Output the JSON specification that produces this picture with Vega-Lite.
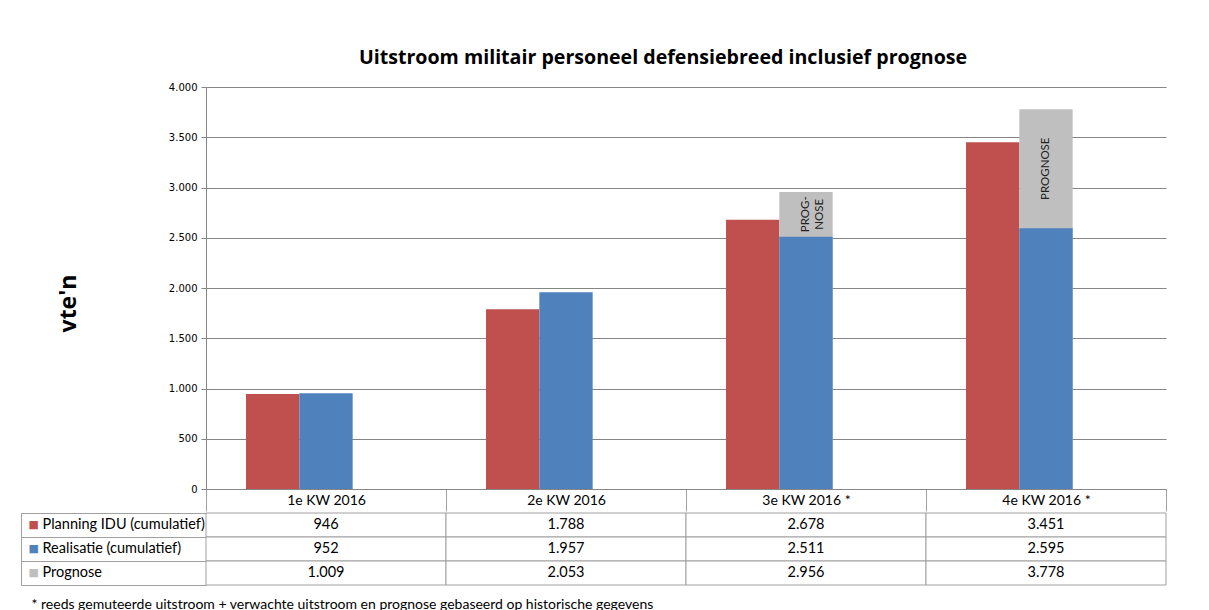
{
  "$schema": "https://vega.github.io/schema/vega-lite/v6.json",
  "background": "white",
  "padding": {"left": 20, "top": 48, "right": 5, "bottom": 0},
  "spacing": 0,
  "config": {
    "locale": {"number": {"decimal": ",", "thousands": ".", "grouping": [3], "currency": ["€", ""]}},
    "view": {"stroke": null},
    "font": "Lato"
  },
  "datasets": {
    "kw": [
      {"kw": "1e KW 2016", "planning": 946, "realisatie": 952, "prognose": 1009, "toon": false, "label": null},
      {"kw": "2e KW 2016", "planning": 1788, "realisatie": 1957, "prognose": 2053, "toon": false, "label": null},
      {"kw": "3e KW 2016 *", "planning": 2678, "realisatie": 2511, "prognose": 2956, "toon": true, "label": ["PROG-", "NOSE"]},
      {"kw": "4e KW 2016 *", "planning": 3451, "realisatie": 2595, "prognose": 3778, "toon": true, "label": "PROGNOSE"}
    ]
  },
  "vconcat": [
    {
      "width": 960,
      "height": 402,
      "title": {"text": "Uitstroom militair personeel defensiebreed inclusief prognose", "font": "Open Sans", "fontSize": 19.6, "fontWeight": "bold", "color": "black", "anchor": "middle", "frame": "group", "dx": -23, "offset": 13},
      "data": {"name": "kw"},
      "layer": [
        {
          "mark": {"type": "bar", "color": "#c0504d"},
          "encoding": {
            "x": {"field": "kw", "type": "nominal", "sort": null, "scale": {"paddingInner": 0, "paddingOuter": 0},
              "axis": {"title": null, "orient": "bottom", "labelAngle": 0, "tickBand": "extent", "tickSize": 22, "tickColor": "#a0a0a0", "domainColor": "#868686", "labelFont": "Lato", "labelFontSize": 14, "labelColor": "black", "labelBaseline": "middle", "labelPadding": -11}},
            "xOffset": {"datum": "planning", "scale": {"domain": ["planning", "realisatie", "leeg"], "paddingInner": 0, "paddingOuter": 0.75}},
            "y": {"field": "planning", "type": "quantitative", "title": "vte'n", "scale": {"domain": [0, 4000]},
              "axis": {"title": "vte'n", "titleFont": "Open Sans", "titleFontSize": 23, "titleFontWeight": "bold", "titleColor": "black", "titlePadding": 88, "titleY": 216, "titleAlign": "center", "format": ",d", "values": [0, 500, 1000, 1500, 2000, 2500, 3000, 3500, 4000], "labelFont": "DejaVu Sans", "labelFontSize": 10, "labelColor": "black", "grid": true, "gridColor": "#868686", "domainColor": "#868686", "tickColor": "#868686", "tickSize": 5, "labelPadding": 4}}
          }
        },
        {
          "transform": [{"filter": "datum.toon"}],
          "mark": {"type": "bar", "color": "#bfbfbf"},
          "encoding": {
            "x": {"field": "kw", "type": "nominal", "sort": null},
            "xOffset": {"datum": "realisatie"},
            "y": {"field": "prognose", "type": "quantitative", "title": "vte'n"}
          }
        },
        {
          "mark": {"type": "bar", "color": "#4f81bd"},
          "encoding": {
            "x": {"field": "kw", "type": "nominal", "sort": null},
            "xOffset": {"datum": "realisatie"},
            "y": {"field": "realisatie", "type": "quantitative", "title": "vte'n"}
          }
        },
        {
          "transform": [
            {"filter": "datum.toon"},
            {"fold": ["realisatie", "prognose"], "as": ["k", "v"]},
            {"joinaggregate": [{"op": "mean", "field": "v", "as": "midden"}], "groupby": ["kw"]},
            {"filter": "datum.k == 'prognose'"}
          ],
          "mark": {"type": "text", "angle": 270, "fontSize": 11.5, "color": "#222222", "lineHeight": 14, "font": "Lato"},
          "encoding": {
            "x": {"field": "kw", "type": "nominal", "sort": null},
            "xOffset": {"datum": "realisatie"},
            "y": {"field": "midden", "type": "quantitative", "title": "vte'n"},
            "text": {"field": "label"}
          }
        }
      ]
    },
    {
      "width": 960,
      "height": 72,
      "data": {"name": "kw"},
      "transform": [{"fold": ["planning", "realisatie", "prognose"], "as": ["reeks", "waarde"]}],
      "layer": [
        {
          "mark": {"type": "rect", "fill": "white", "stroke": "#a0a0a0", "strokeWidth": 1},
          "encoding": {
            "x": {"field": "kw", "type": "nominal", "sort": null, "scale": {"paddingInner": 0, "paddingOuter": 0},
              "axis": {"orient": "bottom", "domain": false, "ticks": false, "labels": false, "title": "*  reeds gemuteerde uitstroom + verwachte uitstroom en prognose gebaseerd op historische gegevens", "titleFont": "Lato", "titleFontSize": 14, "titleFontWeight": "normal", "titleColor": "black", "titleX": -175, "titleY": 19, "titleAlign": "left", "titleAnchor": "start", "titleBaseline": "middle"}},
            "y": {"field": "reeks", "type": "nominal", "scale": {"domain": ["planning", "realisatie", "prognose"], "paddingInner": 0, "paddingOuter": 0},
              "axis": {"title": null, "orient": "left", "domain": false, "ticks": false, "labelAlign": "left", "labelPadding": 164, "labelFont": "Lato", "labelFontSize": 14.5, "labelColor": "black",
                "labelExpr": "datum.value == 'planning' ? 'Planning IDU (cumulatief)' : datum.value == 'realisatie' ? 'Realisatie (cumulatief)' : 'Prognose'"}}
          }
        },
        {
          "mark": {"type": "rect", "fillOpacity": 0, "strokeOpacity": 0},
          "encoding": {
            "x": {"field": "kw", "type": "nominal", "sort": null},
            "y": {"field": "reeks", "type": "nominal",
              "axis": {"title": null, "orient": "left", "domain": false, "labels": false, "ticks": true, "tickBand": "extent", "tickSize": 185, "tickColor": "#a0a0a0"}}
          }
        },
        {
          "mark": {"type": "text", "fontSize": 14.5, "color": "black", "font": "Lato"},
          "encoding": {
            "x": {"field": "kw", "type": "nominal", "sort": null},
            "y": {"field": "reeks", "type": "nominal",
              "axis": {"title": null, "orient": "left", "offset": 185, "domain": true, "domainColor": "#a0a0a0", "ticks": false, "labelAlign": "left", "labelPadding": -7, "labelFont": "DejaVu Sans", "labelFontSize": 11,
                "labelExpr": "'■'",
                "labelColor": {"condition": [{"test": "datum.value == 'planning'", "value": "#c0504d"}, {"test": "datum.value == 'realisatie'", "value": "#4f81bd"}], "value": "#bfbfbf"}}},
            "text": {"field": "waarde", "type": "quantitative", "format": ",d"}
          }
        }
      ],
      "resolve": {"axis": {"y": "independent"}}
    }
  ]
}
